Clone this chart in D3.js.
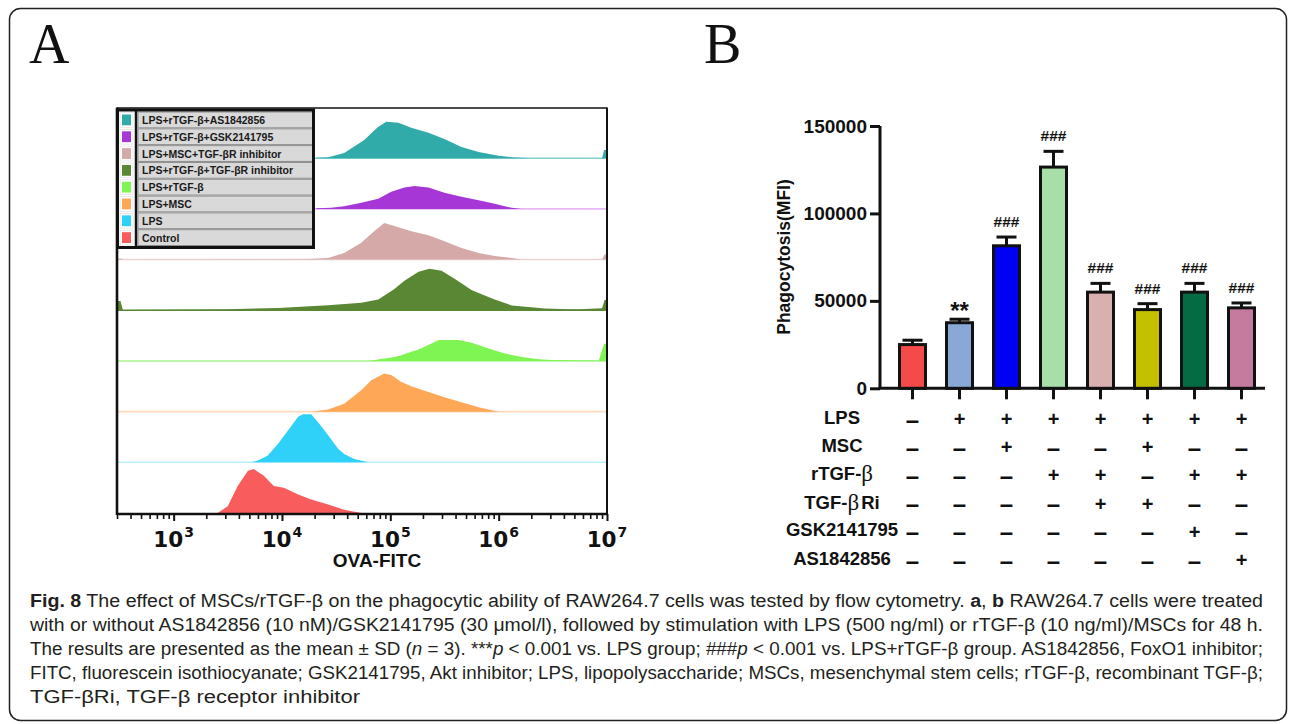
<!DOCTYPE html>
<html><head><meta charset="utf-8">
<script src="https://cdn.jsdelivr.net/npm/d3@7"></script>
<style>body{margin:0;background:#fff}svg{display:block}</style>
</head><body>
<svg id="c" width="1292" height="724"></svg>
<script>
// ---------------- Panel A: flow cytometry histograms (bottom row first) ----------------
const histGroups = ["Control","LPS","LPS+MSC","LPS+rTGF-β","LPS+rTGF-β+TGF-βR inhibitor","LPS+MSC+TGF-βR inhibitor","LPS+rTGF-β+GSK2141795","LPS+rTGF-β+AS1842856"];
const histColors = ["#f85c5c","#2fd1f8","#fea857","#7ef552","#5a8733","#d4a9a7","#a637d6","#31aba9"];
const histLineColors = ["#f85c5c","#b8eefc","#fdd9bd","#a8f590","#5a8733","#ead5d4","#e6b9f2","#7fcfcf"];
// [OVA-FITC intensity, count]
const histControl = [[2550,0],[3160,6.7],[3900,26.7],[4850,41.7],[5500,43.3],[6800,36.7],[8400,26.7],[10400,25],[14100,18.3],[18600,13.3],[26700,8.3],[37500,3.3],[54000,0]];
const histLPS = [[5200,0],[6000,1.7],[7400,6.7],[9200,18.3],[11400,31.7],[14100,45],[15600,47.3],[18600,47.3],[22000,38.3],[26700,26.7],[33000,13.3],[37500,8.3],[46400,3.3],[62500,0]];
const histMSC = [[18600,0],[26700,2],[37500,7.7],[53900,21],[66700,31],[88000,37.7],[102000,36],[126500,29.3],[156000,25],[225000,19.3],[316000,14.3],[454000,9.3],[653000,4.3],[1.0e6,0]];
const histRTGF = [[62500,0],[88000,2.3],[109000,4],[126500,5.7],[156000,9],[182000,11.3],[240000,17.3],[280000,20.7],[427000,20.7],[562000,18],[808000,12.3],[1.14e6,7.3],[1.63e6,4],[2.35e6,1.7],[3.1e6,1],[8.4e6,0.5],[9.4e6,17],[1e7,17]];
const histRTGFRi = [[300,9],[323,9],[340,0.3],[3160,1],[9200,2.3],[26700,5],[53900,7.3],[77400,10.7],[109000,21],[135000,29],[182000,38],[230000,41],[297000,39],[392000,31],[562000,20],[653000,17],[919000,10.7],[1.32e6,4.7],[2.67e6,1.7],[4.45e6,1],[5.5e6,1],[9.0e6,2],[9.5e6,10],[1e7,10]];
const histMSCRi = [[300,0.5],[323,1],[345,0],[17400,0.5],[26700,1.5],[37500,6.5],[53900,16.5],[71000,28],[88000,36],[109000,33],[156000,28],[225000,24],[316000,18],[454000,11.5],[653000,6.5],[919000,3.5],[1.32e6,1.5],[1.63e6,0],[9.0e6,0],[9.5e6,5],[1e7,5]];
const histGSK = [[20700,0.5],[28400,1],[37500,2.5],[53900,6],[77400,10],[102000,17],[135000,21],[167000,22.5],[225000,21],[316000,16],[454000,12],[653000,8.5],[919000,5],[1.32e6,1],[1.63e6,0]];
const histAS = [[20700,0.5],[26700,1],[37500,5],[57400,18],[77400,31],[92000,36],[119000,35],[156000,30],[225000,25],[316000,19],[454000,11],[653000,6],[1.0e6,2.5],[1.32e6,1],[1.9e6,0],[9.0e6,0],[9.4e6,8],[1e7,8]];
const histSeries = [histControl, histLPS, histMSC, histRTGF, histRTGFRi, histMSCRi, histGSK, histAS];
const xExponents = [3,4,5,6,7];
const xTitle = "OVA-FITC";

// ---------------- Panel B: bar chart ----------------
const barGroups = ["Control","LPS","LPS+MSC","LPS+rTGF-β","LPS+rTGF-β+TGF-βRi","LPS+MSC+TGF-βRi","LPS+rTGF-β+GSK2141795","LPS+rTGF-β+AS1842856"];
const barMeans = [25000, 37500, 81500, 126500, 55000, 45000, 55000, 46000];
const barSD = [2500, 2000, 5000, 9000, 5000, 3400, 5000, 2800];
const barSig = ["", "**", "###", "###", "###", "###", "###", "###"];
const barColors = ["#f44a4a","#8aa8d6","#0000f5","#a8dea8","#d9b0b0","#c3c000","#046b42","#c47b9e"];
const yTicksB = [0, 50000, 100000, 150000];
const yTitleB = "Phagocytosis(MFI)";
const tableRows = ["LPS","MSC","rTGF-β","TGF-βRi","GSK2141795","AS1842856"];
const tableSigns = [
  ["−","+","+","+","+","+","+","+"],
  ["−","−","+","−","−","+","−","−"],
  ["−","−","−","+","+","−","+","+"],
  ["−","−","−","−","+","+","−","−"],
  ["−","−","−","−","−","−","+","−"],
  ["−","−","−","−","−","−","−","+"]
];

const svg = d3.select("#c");
const SANS = "'Liberation Sans', Arial, sans-serif";

// outer rounded frame
svg.append("rect").attr("x",9.5).attr("y",8.5).attr("width",1277).attr("height",712)
  .attr("rx",11).attr("fill","none").attr("stroke","#222").attr("stroke-width",1.5);

// panel letters
svg.append("text").attr("x",29).attr("y",63).attr("font-family","'Liberation Serif', 'Times New Roman', serif")
  .attr("font-size",56).attr("fill","#111").text("A");
svg.append("text").attr("x",704).attr("y",63).attr("font-family","'Liberation Serif', 'Times New Roman', serif")
  .attr("font-size",56).attr("fill","#111").text("B");

// ===== Panel A =====
const xH = d3.scaleLog().domain([300, 1e7]).range([117, 607]);
const yRow = d3.scaleBand().domain(histGroups.slice().reverse()).range([107.5, 513]);
const hY = d3.scaleLinear().domain([0, 50]).range([0, 50.7]);
const gA = svg.append("g");

histGroups.forEach((g, i) => {
  const base = yRow(g) + yRow.bandwidth();
  if (i > 0) {
    gA.append("line").attr("x1",117).attr("x2",607).attr("y1",base).attr("y2",base)
      .attr("stroke",histLineColors[i]).attr("stroke-width",1.6);
  }
  const area = d3.area().x(d => xH(d[0])).y0(base).y1(d => base - hY(d[1]));
  gA.append("path").datum(histSeries[i]).attr("d",area).attr("fill",histColors[i]);
});

// frame
gA.append("line").attr("x1",117).attr("x2",607).attr("y1",108).attr("y2",108).attr("stroke","#111").attr("stroke-width",1.6);
gA.append("line").attr("x1",607).attr("x2",607).attr("y1",107.5).attr("y2",514).attr("stroke","#111").attr("stroke-width",2);
gA.append("line").attr("x1",117).attr("x2",117).attr("y1",107.5).attr("y2",515).attr("stroke","#111").attr("stroke-width",2.6);

// x axis
const minorTicks = [];
for (let e = 2; e < 7; e++) for (let m = 1; m < 10; m++) {
  const v = m * Math.pow(10, e);
  if (v >= 300 && v <= 1e7 && m !== 1) minorTicks.push(v);
}
const axA = gA.append("g").attr("transform","translate(0,514)");
axA.call(d3.axisBottom(xH).tickValues(xExponents.map(e => Math.pow(10,e))).tickSize(7).tickFormat(""));
axA.select(".domain").attr("d","M117,0H607").attr("stroke","#111").attr("stroke-width",2.6);
axA.selectAll(".tick line").attr("stroke","#111").attr("stroke-width",2);
const axMinor = gA.append("g").attr("transform","translate(0,514)");
axMinor.call(d3.axisBottom(xH).tickValues(minorTicks).tickSize(5).tickFormat(""));
axMinor.select(".domain").remove();
axMinor.selectAll(".tick line").attr("stroke","#111").attr("stroke-width",1.6);

xExponents.forEach(e => {
  const t = gA.append("text").attr("x", xH(Math.pow(10,e))).attr("y", 547)
    .attr("text-anchor","middle").attr("font-family","'DejaVu Sans', Verdana, sans-serif")
    .attr("font-weight","bold").attr("font-size",21.5).attr("fill","#111");
  t.append("tspan").text("10");
  t.append("tspan").attr("font-size",14).attr("dy",-10).attr("dx",1).text(e);
});
gA.append("text").attr("x",377).attr("y",567).attr("text-anchor","middle")
  .attr("font-family",SANS).attr("font-weight","bold").attr("font-size",19).attr("fill","#111").text(xTitle);

// legend
const legX0 = 117, legX1 = 314, legY0 = 110, legY1 = 247.5;
const legendOrder = histGroups.slice().reverse();
const legRow = d3.scaleBand().domain(legendOrder).range([legY0 + 1.5, legY1 - 1.5]);
const gL = gA.append("g");
gL.append("rect").attr("x",legX0).attr("y",legY0).attr("width",legX1-legX0).attr("height",legY1-legY0)
  .attr("fill","#fff");
legendOrder.forEach(g => {
  const i = histGroups.indexOf(g);
  const y = legRow(g), h = legRow.bandwidth();
  gL.append("rect").attr("x",138).attr("y",y+0.5).attr("width",legX1-1.5-138).attr("height",h-1)
    .attr("fill","#d9d9d9").attr("stroke","#8c8c8c").attr("stroke-width",1);
  gL.append("rect").attr("x",120).attr("y",y+1).attr("width",13).attr("height",h-2)
    .attr("fill","#fff").attr("stroke","#e4e4e4").attr("stroke-width",0.8);
  gL.append("rect").attr("x",122).attr("y",y+3).attr("width",9).attr("height",h-6)
    .attr("fill",histColors[i]);
  gL.append("text").attr("x",142).attr("y",y+h/2).attr("dominant-baseline","central")
    .attr("font-family",SANS).attr("font-weight","bold").attr("font-size",10.5).attr("fill","#1a1a1a").text(g);
});
gL.append("line").attr("x1",136).attr("x2",136).attr("y1",legY0).attr("y2",legY1).attr("stroke","#111").attr("stroke-width",2.5);
gL.append("rect").attr("x",legX0+0.5).attr("y",legY0).attr("width",legX1-legX0-1).attr("height",legY1-legY0)
  .attr("fill","none").attr("stroke","#111").attr("stroke-width",3);

// ===== Panel B =====
const yB = d3.scaleLinear().domain([0,150000]).range([388.3, 126]);
const xB = d3.scaleBand().domain(barGroups).range([889, 1265]).paddingInner(0.383).paddingOuter(0.1915);
const gB = svg.append("g");

const axY = gB.append("g").attr("transform","translate(880,0)")
  .call(d3.axisLeft(yB).tickValues(yTicksB).tickSize(10).tickPadding(3).tickFormat(d3.format("d")));
axY.select(".domain").attr("d","M0,388.3V126").attr("stroke","#111").attr("stroke-width",3);
axY.selectAll(".tick line").attr("stroke","#111").attr("stroke-width",3);
axY.selectAll(".tick text").attr("font-family",SANS).attr("font-weight","bold").attr("font-size",19).attr("fill","#111");

const axX = gB.append("g").attr("transform","translate(0,388.3)")
  .call(d3.axisBottom(xB).tickSize(11).tickFormat(""));
axX.select(".domain").attr("d","M878.5,0H1265").attr("stroke","#111").attr("stroke-width",3);
axX.selectAll(".tick line").attr("stroke","#111").attr("stroke-width",3);

gB.append("text").attr("transform","translate(790,257) rotate(-90)").attr("text-anchor","middle")
  .attr("font-family",SANS).attr("font-weight","bold").attr("font-size",17.5).attr("fill","#111").text(yTitleB);

barGroups.forEach((g, i) => {
  const x = xB(g), w = xB.bandwidth(), cx = x + w/2;
  const top = yB(barMeans[i]), errTop = yB(barMeans[i] + barSD[i]);
  gB.append("line").attr("x1",cx).attr("x2",cx).attr("y1",top).attr("y2",errTop).attr("stroke","#111").attr("stroke-width",3);
  gB.append("line").attr("x1",cx-10).attr("x2",cx+10).attr("y1",errTop).attr("y2",errTop).attr("stroke","#111").attr("stroke-width",3);
  gB.append("rect").attr("x",x+1.5).attr("y",top).attr("width",w-3).attr("height",yB(0)-top)
    .attr("fill",barColors[i]).attr("stroke","#111").attr("stroke-width",3);
  if (barSig[i]) {
    const isStar = barSig[i].startsWith("*");
    gB.append("text").attr("x",cx).attr("y", isStar ? errTop - 0 : errTop - 10)
      .attr("text-anchor","middle").attr("font-family",SANS).attr("font-weight","bold")
      .attr("font-size", isStar ? 24 : 15.5).attr("fill","#111").text(barSig[i]);
  }
});

// condition table
const yT = d3.scalePoint().domain(tableRows).range([417, 558]);
tableRows.forEach((r, ri) => {
  const y = yT(r);
  const t = gB.append("text").attr("x",842).attr("y",y).attr("text-anchor","middle").attr("dominant-baseline","central")
    .attr("font-family",SANS).attr("font-weight","bold").attr("font-size",18.5).attr("fill","#111");
  const parts = r.split("β");
  if (parts.length > 1) {
    t.append("tspan").text(parts[0]);
    t.append("tspan").attr("font-family","'Liberation Serif', 'Times New Roman', serif").attr("font-weight","normal").attr("font-size",23).text("β");
    if (parts[1]) t.append("tspan").attr("dx",2).text(parts[1]);
  } else t.text(r);
  tableSigns[ri].forEach((s, ci) => {
    const cx = xB(barGroups[ci]) + xB.bandwidth()/2;
    gB.append("text").attr("x",cx).attr("y",y+2).attr("text-anchor","middle").attr("dominant-baseline","central")
      .attr("font-family",SANS).attr("font-weight","bold").attr("font-size", s === "+" ? 20 : 24).attr("fill","#111")
      .text(s === "+" ? "+" : "–");
  });
});

// ===== Caption =====
const captionLines = [
  [["Fig. 8","b"],[" The effect of MSCs/rTGF-β on the phagocytic ability of RAW264.7 cells was tested by flow cytometry. ",""],["a","b"],[", ",""],["b","b"],[" RAW264.7 cells were treated",""]],
  [["with or without AS1842856 (10 nM)/GSK2141795 (30 μmol/l), followed by stimulation with LPS (500 ng/ml) or rTGF-β (10 ng/ml)/MSCs for 48 h.",""]],
  [["The results are presented as the mean ± SD (",""],["n","i"],[" = 3). ***",""],["p","i"],[" < 0.001 vs. LPS group; ###",""],["p","i"],[" < 0.001 vs. LPS+rTGF-β group. AS1842856, FoxO1 inhibitor;",""]],
  [["FITC, fluorescein isothiocyanate; GSK2141795, Akt inhibitor; LPS, lipopolysaccharide; MSCs, mesenchymal stem cells; rTGF-β, recombinant TGF-β;",""]],
  [["TGF-βRi, TGF-β receptor inhibitor",""]]
];
const captionWidths = [1233, 1233, 1233, 1233, 330];
const yCap = d3.scalePoint().domain(d3.range(captionLines.length)).range([607, 703]);
captionLines.forEach((line, li) => {
  const t = svg.append("text").attr("x",30).attr("y",yCap(li)).attr("font-family",SANS)
    .attr("font-size",18).attr("fill","#231f20").attr("textLength",captionWidths[li]).attr("lengthAdjust","spacingAndGlyphs");
  line.forEach(([s, st]) => {
    const sp = t.append("tspan").text(s);
    if (st === "b") sp.attr("font-weight","bold");
    if (st === "i") sp.attr("font-style","italic");
  });
});
</script>
</body></html>
